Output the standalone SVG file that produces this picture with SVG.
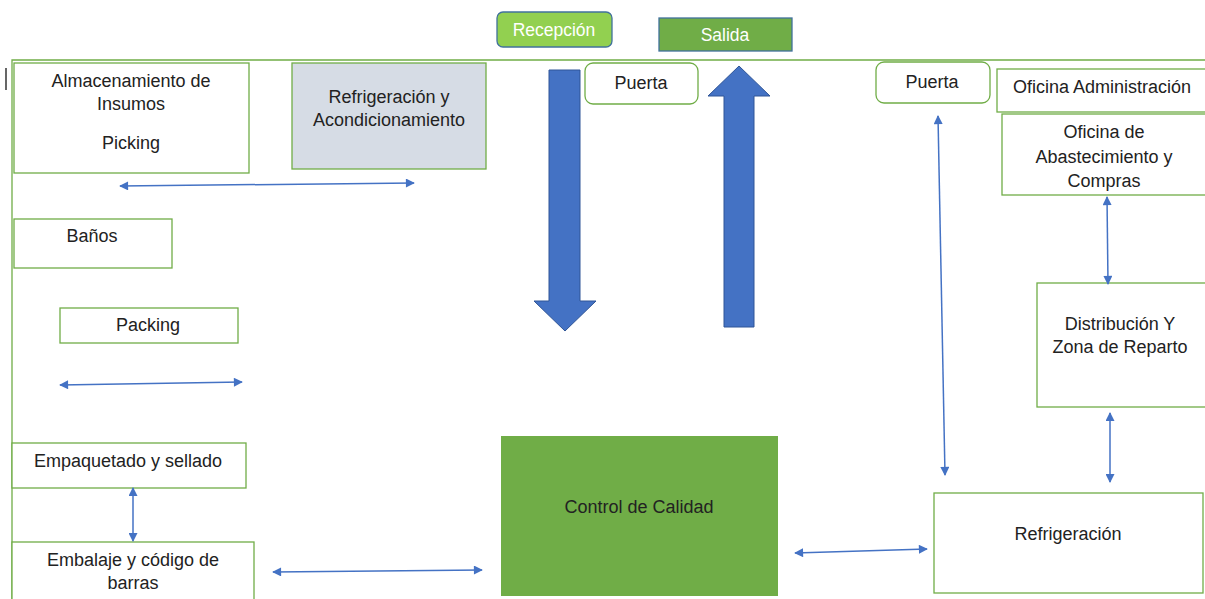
<svg xmlns="http://www.w3.org/2000/svg" width="1205" height="599" viewBox="0 0 1205 599">
<defs>
<style>
.box{fill:#fff;stroke:#70ad47;stroke-width:1.3}
.t{font-family:"Liberation Sans",Arial,sans-serif;font-size:18px;fill:#222;text-anchor:middle}
.w{font-family:"Liberation Sans",Arial,sans-serif;font-size:17.5px;fill:#fff;text-anchor:middle}
.c{stroke:#4472c4;stroke-width:1.5;fill:none;marker-start:url(#ah);marker-end:url(#ah)}
.big{fill:#4472c4;stroke:#2f5597;stroke-width:1}
</style>
<marker id="ah" viewBox="0 0 10 10" refX="9" refY="5" markerWidth="10" markerHeight="9" markerUnits="userSpaceOnUse" orient="auto-start-reverse">
<path d="M0,0 L10,5 L0,10 z" fill="#4472c4"/>
</marker>
</defs>
<rect width="1205" height="599" fill="#fff"/>
<g id="frame">
<polyline points="1205,60 12,60 12,599" fill="none" stroke="#70ad47" stroke-width="1.3"/>
<line x1="6" y1="68" x2="6" y2="90" stroke="#000" stroke-width="1.2"/>
</g>
<g id="recepcion"><rect x="497" y="12" width="115" height="35" rx="6" fill="#92d050" stroke="#41719c" stroke-width="1.3"/><text class="w" x="554" y="36">Recepción</text></g>
<g id="salida"><rect x="659" y="18" width="133" height="33" fill="#70ad47" stroke="#41719c" stroke-width="1.3"/><text class="w" x="725" y="41">Salida</text></g>
<g id="almacenamiento"><rect class="box" x="14" y="63" width="235" height="110"/><text class="t" x="131" y="87">Almacenamiento de</text><text class="t" x="131" y="110">Insumos</text><text class="t" x="131" y="149">Picking</text></g>
<g id="refrig-acond"><rect x="292" y="63" width="194" height="106" fill="#d6dce5" stroke="#70ad47" stroke-width="1.3"/><text class="t" x="389" y="103">Refrigeración y</text><text class="t" x="389" y="126">Acondicionamiento</text></g>
<g id="puerta1"><rect class="box" x="585" y="63" width="113" height="41" rx="8"/><text class="t" x="641" y="89">Puerta</text></g>
<g id="puerta2"><rect class="box" x="876" y="62" width="114" height="41" rx="8"/><text class="t" x="932" y="88">Puerta</text></g>
<g id="oficina-admin"><rect class="box" x="997" y="69" width="215" height="43"/><text class="t" x="1102" y="93">Oficina Administración</text></g>
<g id="oficina-abast"><rect class="box" x="1002" y="114" width="210" height="81"/><text class="t" x="1104" y="138">Oficina de</text><text class="t" x="1104" y="163">Abastecimiento y</text><text class="t" x="1104" y="187">Compras</text></g>
<g id="distribucion"><rect class="box" x="1037" y="283" width="175" height="124"/><text class="t" x="1120" y="330">Distribución Y</text><text class="t" x="1120" y="353">Zona de Reparto</text></g>
<g id="refrigeracion"><rect class="box" x="934" y="493" width="269" height="100"/><text class="t" x="1068" y="540">Refrigeración</text></g>
<g id="control-calidad"><rect x="501" y="436" width="277" height="160" fill="#70ad47"/><text class="t" x="639" y="513">Control de Calidad</text></g>
<g id="banos"><rect class="box" x="14" y="219" width="158" height="49"/><text class="t" x="92" y="242">Baños</text></g>
<g id="packing"><rect class="box" x="60" y="308" width="178" height="35"/><text class="t" x="148" y="331">Packing</text></g>
<g id="empaquetado"><rect class="box" x="12" y="443" width="234" height="45"/><text class="t" x="128" y="467">Empaquetado y sellado</text></g>
<g id="embalaje"><rect class="box" x="12" y="542" width="242" height="62"/><text class="t" x="133" y="566">Embalaje y código de</text><text class="t" x="133" y="589">barras</text></g>
<g id="flow-arrows">
<polygon class="big" points="549,70 580,70 580,301 596,301 565,331 534,301 549,301"/>
<polygon class="big" points="739,66 770,96 754,96 754,327 724,327 724,96 708,96"/>
</g>
<g id="connectors">
<line class="c" x1="120" y1="186" x2="414" y2="183"/>
<line class="c" x1="60" y1="385" x2="242" y2="382"/>
<line class="c" x1="133" y1="488" x2="133" y2="541"/>
<line class="c" x1="273" y1="572" x2="482" y2="570"/>
<line class="c" x1="795" y1="553" x2="927" y2="549"/>
<line class="c" x1="938" y1="116" x2="945" y2="475"/>
<line class="c" x1="1107" y1="197" x2="1108" y2="284"/>
<line class="c" x1="1110" y1="413" x2="1110" y2="482"/>
</g>
</svg>
